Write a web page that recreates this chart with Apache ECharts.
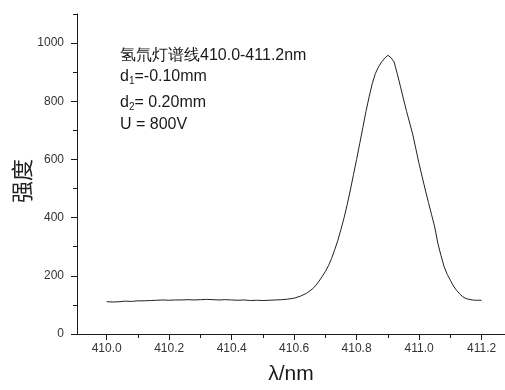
<!DOCTYPE html>
<html>
<head>
<meta charset="utf-8">
<script src="https://cdn.jsdelivr.net/npm/echarts@6/dist/echarts.min.js"></script>
<style>
  html, body { margin: 0; padding: 0; background: #fff; }
  #chart { width: 505px; height: 390px; }
</style>
</head>
<body>
<div id="chart"></div>
<script>
// Hydrogen/deuterium lamp spectral line, 410.0-411.2 nm
const wavelength = [
  410.00, 410.02, 410.04, 410.06, 410.08, 410.10, 410.12, 410.14, 410.16, 410.18,
  410.20, 410.22, 410.24, 410.26, 410.28, 410.30, 410.32, 410.34, 410.36, 410.38,
  410.40, 410.42, 410.44, 410.46, 410.48, 410.50, 410.52, 410.54, 410.56, 410.58,
  410.60, 410.62, 410.64, 410.65, 410.66, 410.67, 410.68, 410.69, 410.70, 410.71,
  410.72, 410.73, 410.74, 410.75, 410.76, 410.77, 410.78, 410.79, 410.80, 410.81,
  410.82, 410.83, 410.84, 410.85, 410.86, 410.87, 410.88, 410.89, 410.90, 410.91,
  410.92, 410.93, 410.94, 410.95, 410.96, 410.97, 410.98, 410.99, 411.00, 411.01,
  411.02, 411.03, 411.04, 411.05, 411.06, 411.07, 411.08, 411.09, 411.10, 411.11,
  411.12, 411.13, 411.14, 411.15, 411.16, 411.17, 411.18, 411.19, 411.20
];
const intensity = [
  111, 110, 111, 113, 112, 114, 114, 115, 116, 117,
  116, 117, 117, 118, 117, 118, 119, 118, 117, 118,
  117, 116, 117, 115, 116, 115, 116, 117, 118, 120,
  123, 130, 140, 148, 156, 168, 182, 198, 215, 235,
  260, 290, 322, 360, 400, 445, 495, 548, 600, 655,
  710, 765, 815, 860, 895, 918, 935, 948, 958, 950,
  935, 895, 852, 808, 765, 725, 685, 635, 585, 540,
  495, 452, 410, 368, 312, 270, 232, 205, 185, 165,
  150, 138, 128, 122, 119, 117, 116, 116, 116
];

const xMajorTicks = [410.0, 410.2, 410.4, 410.6, 410.8, 411.0, 411.2];
const xMinorTicks = [410.1, 410.3, 410.5, 410.7, 410.9, 411.1];
const yMajorTicks = [0, 200, 400, 600, 800, 1000];
const yMinorTicks = [100, 300, 500, 700, 900, 1100];

const xLabel = 'λ/nm';
const yLabel = '强度';
const noteTitle = '氢氘灯谱线410.0-411.2nm';
const noteD1 = '=-0.10mm';
const noteD2 = '= 0.20mm';
const noteU = 'U = 800V';

const FONT = '"Liberation Sans", Arial, sans-serif';
const AXIS_COLOR = '#1a1a1a';
const X_MIN = 409.905, X_MAX = 411.275;
const Y_MIN = 0, Y_MAX = 1100;

const chart = echarts.init(document.getElementById('chart'));

const baseAxisX = {
  type: 'value', min: X_MIN, max: X_MAX, position: 'bottom',
  splitLine: { show: false }
};
const baseAxisY = {
  type: 'value', min: Y_MIN, max: Y_MAX, position: 'left',
  splitLine: { show: false }
};

const subRich = {
  a: { fontFamily: FONT, fontSize: 16, fill: '#1a1a1a', lineHeight: 18 },
  s: { fontFamily: FONT, fontSize: 10, fill: '#1a1a1a', lineHeight: 2, verticalAlign: 'bottom' }
};

chart.setOption({
  animation: false,
  backgroundColor: '#fff',
  grid: { left: 77, right: 0, top: 14, bottom: 50, containLabel: false },
  xAxis: [
    Object.assign({}, baseAxisX, {
      name: xLabel,
      nameLocation: 'middle',
      nameGap: 30,
      nameTextStyle: { fontFamily: FONT, fontSize: 21, color: '#1a1a1a' },
      axisLine: { show: true, lineStyle: { color: AXIS_COLOR, width: 1 } },
      axisTick: { show: true, length: 6, customValues: xMajorTicks, lineStyle: { color: AXIS_COLOR } },
      axisLabel: {
        customValues: xMajorTicks, margin: 9,
        fontFamily: FONT, fontSize: 12, color: '#333',
        formatter: v => v.toFixed(1)
      }
    }),
    Object.assign({}, baseAxisX, {
      axisLine: { show: false },
      axisTick: { show: true, length: 4, customValues: xMinorTicks, lineStyle: { color: AXIS_COLOR } },
      axisLabel: { show: false }
    })
  ],
  yAxis: [
    Object.assign({}, baseAxisY, {
      axisLine: { show: true, lineStyle: { color: AXIS_COLOR, width: 1 } },
      axisTick: { show: true, length: 6, customValues: yMajorTicks, lineStyle: { color: AXIS_COLOR } },
      axisLabel: {
        customValues: yMajorTicks, margin: 13,
        fontFamily: FONT, fontSize: 12, color: '#333',
        formatter: v => String(Math.round(v))
      }
    }),
    Object.assign({}, baseAxisY, {
      axisLine: { show: false },
      axisTick: { show: true, length: 4, customValues: yMinorTicks, lineStyle: { color: AXIS_COLOR } },
      axisLabel: { show: false }
    })
  ],
  series: [{
    type: 'line',
    xAxisIndex: 0,
    yAxisIndex: 0,
    data: wavelength.map((w, i) => [w, intensity[i]]),
    showSymbol: false,
    smooth: false,
    lineStyle: { color: '#222', width: 1 }
  }],
  graphic: [
    {
      type: 'text', left: 11, top: 159, rotation: Math.PI / 2,
      style: { text: yLabel, fontFamily: '"Noto Sans CJK SC", sans-serif', fontSize: 22, fill: '#222' }
    },
    {
      type: 'text', left: 120, top: 48,
      style: { text: noteTitle, fontFamily: FONT, fontSize: 16, fill: '#1a1a1a' }
    },
    {
      type: 'text', left: 120, top: 69,
      style: { text: '{a|d}{s|1}{a|' + noteD1 + '}', rich: subRich }
    },
    {
      type: 'text', left: 120, top: 95,
      style: { text: '{a|d}{s|2}{a|' + noteD2 + '}', rich: subRich }
    },
    {
      type: 'text', left: 120, top: 117,
      style: { text: noteU, fontFamily: FONT, fontSize: 16, fill: '#1a1a1a' }
    }
  ]
});
</script>
</body>
</html>
